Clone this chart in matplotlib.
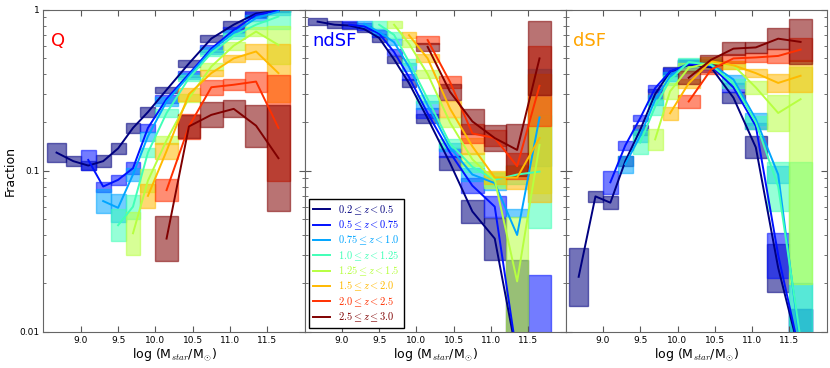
import numpy as np
import matplotlib
matplotlib.use('Agg')
from matplotlib import pyplot as plt
from matplotlib.ticker import FixedLocator, FixedFormatter, LogLocator, NullFormatter

nan = np.nan

# mass bins (log M*/Msun)
mass_edges = [8.55, 8.8, 9.0, 9.2, 9.4, 9.6, 9.8, 10.0, 10.3, 10.6, 10.9, 11.2, 11.5, 11.8]
mass_mid = [8.675, 8.9, 9.1, 9.3, 9.5, 9.7, 9.9, 10.15, 10.45, 10.75, 11.05, 11.35, 11.65]

z_labels = [r'$0.2 \leq z < 0.5$', r'$0.5 \leq z < 0.75$', r'$0.75 \leq z < 1.0$',
            r'$1.0 \leq z < 1.25$', r'$1.25 \leq z < 1.5$', r'$1.5 \leq z < 2.0$',
            r'$2.0 \leq z < 2.5$', r'$2.5 \leq z \leq 3.0$']

panel_names = ['Q', 'ndSF', 'dSF']
panel_colors = ['red', 'blue', 'orange']

# fraction per z bin, and error box in dex: one number = symmetric, (down, up) otherwise
q_frac = [
    [0.130, 0.115, 0.108, 0.115, 0.138, 0.185, 0.232, 0.319, 0.465, 0.664, 0.81, 0.95, 0.99],
    [nan, nan, 0.117, 0.080, 0.088, 0.104, 0.185, 0.28, 0.40, 0.575, 0.751, 0.931, 0.99],
    [nan, nan, nan, 0.065, 0.059, 0.095, 0.164, 0.27, 0.39, 0.56, 0.72, 0.89, 0.975],
    [nan, nan, nan, nan, 0.046, 0.060, 0.13, 0.229, 0.377, 0.539, 0.69, 0.81, 0.91],
    [nan, nan, nan, nan, nan, 0.041, 0.087, 0.155, 0.283, 0.445, 0.60, 0.734, 0.606],
    [nan, nan, nan, nan, nan, nan, 0.070, 0.133, 0.30, 0.405, 0.50, 0.552, 0.405],
    [nan, nan, nan, nan, nan, nan, nan, 0.076, 0.189, 0.331, 0.343, 0.359, 0.185],
    [nan, nan, nan, nan, nan, nan, nan, 0.038, 0.189, 0.223, 0.243, 0.191, 0.12],
]
q_err = [
    [0.06, 0.03, 0.03, 0.036, 0.036, 0.031, 0.031, 0.02, 0.02, 0.02, 0.024, 0.02, 0.01],
    [nan, nan, 0.062, 0.031, 0.031, 0.036, 0.025, 0.025, 0.02, 0.02, 0.02, 0.02, 0.01],
    [nan, nan, nan, 0.072, 0.088, 0.04, 0.03, 0.025, 0.02, 0.02, 0.02, 0.02, 0.02],
    [nan, nan, nan, nan, 0.1, 0.075, 0.026, 0.025, 0.02, 0.02, 0.02, 0.025, 0.08],
    [nan, nan, nan, nan, nan, 0.135, 0.07, 0.025, 0.025, 0.02, 0.025, 0.03, 0.12],
    [nan, nan, nan, nan, nan, nan, 0.075, 0.05, 0.04, 0.02, 0.02, 0.045, 0.18],
    [nan, nan, nan, nan, nan, nan, nan, 0.07, 0.08, 0.047, 0.034, 0.062, 0.33],
    [nan, nan, nan, nan, nan, nan, nan, 0.14, 0.07, 0.077, 0.052, 0.13, 0.33],
]

nd_frac = [
    [0.846, 0.81, 0.80, 0.76, 0.67, 0.493, 0.351, 0.212, 0.112, 0.056, 0.038, 0.007, nan],
    [nan, nan, 0.81, 0.79, 0.713, 0.548, 0.383, 0.228, 0.13, 0.081, 0.06, 0.007, 0.008],
    [nan, nan, nan, 0.82, 0.73, 0.63, 0.443, 0.256, 0.14, 0.095, 0.084, 0.040, 0.215],
    [nan, nan, nan, nan, 0.81, 0.70, 0.476, 0.28, 0.148, 0.106, 0.088, 0.095, 0.099],
    [nan, nan, nan, nan, nan, 0.81, 0.618, 0.40, 0.20, 0.118, 0.088, 0.0206, 0.145],
    [nan, nan, nan, nan, nan, nan, 0.697, 0.50, 0.244, 0.142, 0.091, 0.091, 0.16],
    [nan, nan, nan, nan, nan, nan, nan, 0.65, 0.357, 0.171, 0.16, 0.107, 0.338],
    [nan, nan, nan, nan, nan, nan, nan, 0.59, 0.31, 0.203, 0.16, 0.135, 0.50],
]
nd_err = [
    [0.023, 0.02, 0.02, 0.02, 0.025, 0.02, 0.023, 0.03, 0.045, 0.07, 0.13, (0.5, 0.6), nan],
    [nan, nan, 0.02, 0.02, 0.02, 0.02, 0.02, 0.03, 0.03, 0.045, 0.065, 0.1, 0.45],
    [nan, nan, nan, 0.02, 0.02, 0.02, 0.025, 0.024, 0.025, 0.04, 0.04, (-0.11, 0.16), 0.3],
    [nan, nan, nan, nan, 0.02, 0.02, 0.02, 0.025, 0.025, 0.03, 0.04, 0.06, 0.35],
    [nan, nan, nan, nan, nan, 0.02, 0.02, 0.025, 0.03, 0.04, 0.05, (0.5, 0.4), 0.3],
    [nan, nan, nan, nan, nan, nan, 0.02, 0.025, 0.05, 0.05, 0.04, 0.07, 0.4],
    [nan, nan, nan, nan, nan, nan, nan, 0.025, 0.035, 0.06, 0.05, 0.08, 0.25],
    [nan, nan, nan, nan, nan, nan, nan, 0.025, 0.05, 0.075, 0.08, 0.16, 0.23],
]

d_frac = [
    [0.022, 0.0695, 0.0635, 0.115, 0.18, 0.30, 0.414, 0.455, 0.44, 0.285, 0.14, 0.025, 0.007],
    [nan, nan, 0.085, 0.144, 0.213, 0.327, 0.415, 0.46, 0.45, 0.33, 0.19, 0.03, 0.007],
    [nan, nan, nan, 0.11, 0.165, 0.277, 0.386, 0.47, 0.46, 0.37, 0.21, 0.095, 0.008],
    [nan, nan, nan, nan, 0.15, 0.251, 0.368, 0.475, 0.455, 0.35, 0.2, 0.08, 0.009],
    [nan, nan, nan, nan, nan, 0.157, 0.312, 0.437, 0.47, 0.453, 0.33, 0.229, 0.279],
    [nan, nan, nan, nan, nan, nan, 0.228, 0.35, 0.48, 0.453, 0.405, 0.352, 0.39],
    [nan, nan, nan, nan, nan, nan, nan, 0.27, 0.426, 0.50, 0.507, 0.518, 0.567],
    [nan, nan, nan, nan, nan, nan, nan, 0.379, 0.49, 0.575, 0.585, 0.663, 0.633],
]
d_err = [
    [0.18, 0.035, 0.04, 0.03, 0.03, 0.03, 0.03, 0.03, 0.03, 0.033, 0.068, 0.15, 0.3],
    [nan, nan, 0.07, 0.027, 0.02, 0.022, 0.022, 0.025, 0.025, 0.03, 0.02, 0.14, 0.3],
    [nan, nan, nan, 0.053, 0.04, 0.03, 0.025, 0.025, 0.025, 0.03, 0.04, 0.05, 0.4],
    [nan, nan, nan, nan, 0.07, 0.05, 0.03, 0.025, 0.025, 0.03, 0.04, 0.15, 1.1],
    [nan, nan, nan, nan, nan, 0.067, 0.05, 0.03, 0.025, 0.025, 0.04, 0.11, (1.15, 0.2)],
    [nan, nan, nan, nan, nan, nan, 0.04, 0.03, 0.025, 0.025, 0.025, 0.057, 0.1],
    [nan, nan, nan, nan, nan, nan, nan, 0.04, 0.03, 0.03, 0.03, 0.045, 0.07],
    [nan, nan, nan, nan, nan, nan, nan, 0.04, 0.03, 0.04, 0.035, 0.065, 0.14],
]

plt.rcParams['mathtext.fontset'] = 'cm'
colors = plt.cm.jet(np.linspace(0, 1, 8))


def box_limits(frac, err):
    lo, hi, ok = [], [], []
    for f, e in zip(frac, err):
        if isinstance(e, tuple):
            down, up = e
        else:
            down, up = e, e
        good = np.isfinite(f) and np.isfinite(down)
        ok.append(good)
        lo.append(f * 10 ** (-down) if good else nan)
        hi.append(f * 10 ** up if good else nan)
    return np.array(lo), np.array(hi), np.array(ok)


def draw_panel(ax, frac, err):
    edges = np.array(mass_edges)
    widths = np.diff(edges)
    for k in range(8):
        lo, hi, ok = box_limits(frac[k], err[k])
        ax.bar(edges[:-1][ok], (hi - lo)[ok], width=widths[ok], bottom=lo[ok], align='edge',
               color=colors[k], alpha=0.55, edgecolor=colors[k], linewidth=1, zorder=1)
    lines = []
    for k in range(8):
        l, = ax.plot(mass_mid, frac[k], color=colors[k], lw=1.4, zorder=3)
        lines.append(l)
    return lines


def make_graph():
    fig, axes = plt.subplots(1, 3, figsize=(8.3, 3.68), dpi=100, sharey=True)
    fig.subplots_adjust(left=0.0524, right=0.996, bottom=0.098, top=0.973, wspace=0)
    data = [(q_frac, q_err), (nd_frac, nd_err), (d_frac, d_err)]
    for i, ax in enumerate(axes):
        lines = draw_panel(ax, *data[i])
        ax.set_yscale('log')
        ax.set_ylim(0.01, 1)
        ax.set_xlim(8.5, 12.0)
        ax.xaxis.set_major_locator(FixedLocator([9.0, 9.5, 10.0, 10.5, 11.0, 11.5]))
        ax.xaxis.set_major_formatter(FixedFormatter(['9.0', '9.5', '10.0', '10.5', '11.0', '11.5']))
        ax.yaxis.set_major_locator(FixedLocator([0.01, 0.1, 1]))
        ax.yaxis.set_major_formatter(FixedFormatter(['0.01', '0.1', '1']))
        ax.yaxis.set_minor_locator(LogLocator(subs=np.arange(2, 10)))
        ax.yaxis.set_minor_formatter(NullFormatter())
        ax.tick_params(which='both', direction='in', top=True, right=True, labelsize=6.5,
                       color='0.35', pad=3)
        ax.tick_params(which='major', length=4)
        ax.tick_params(which='minor', length=2)
        for s in ax.spines.values():
            s.set_color('0.4')
        ax.set_xlabel(r'log (M$_{star}$/M$_{\odot}$)', fontsize=9, labelpad=1)
        ax.text(0.03, 0.905, panel_names[i], color=panel_colors[i], fontsize=13,
                transform=ax.transAxes, ha='left', va='center')
        if i == 1:
            leg = ax.legend(lines, z_labels, loc='lower left', bbox_to_anchor=(0.018, 0.012),
                            borderaxespad=0, fontsize=7.5, fancybox=False, framealpha=1,
                            edgecolor='black', handlelength=1.6, labelspacing=0.2)
            leg.get_frame().set_linewidth(1.0)
            for t, c in zip(leg.get_texts(), colors):
                t.set_color(c)
    axes[0].set_ylabel('Fraction', fontsize=9, labelpad=2)
    plt.savefig('out.png', dpi=100)


if __name__ == '__main__':
    make_graph()
